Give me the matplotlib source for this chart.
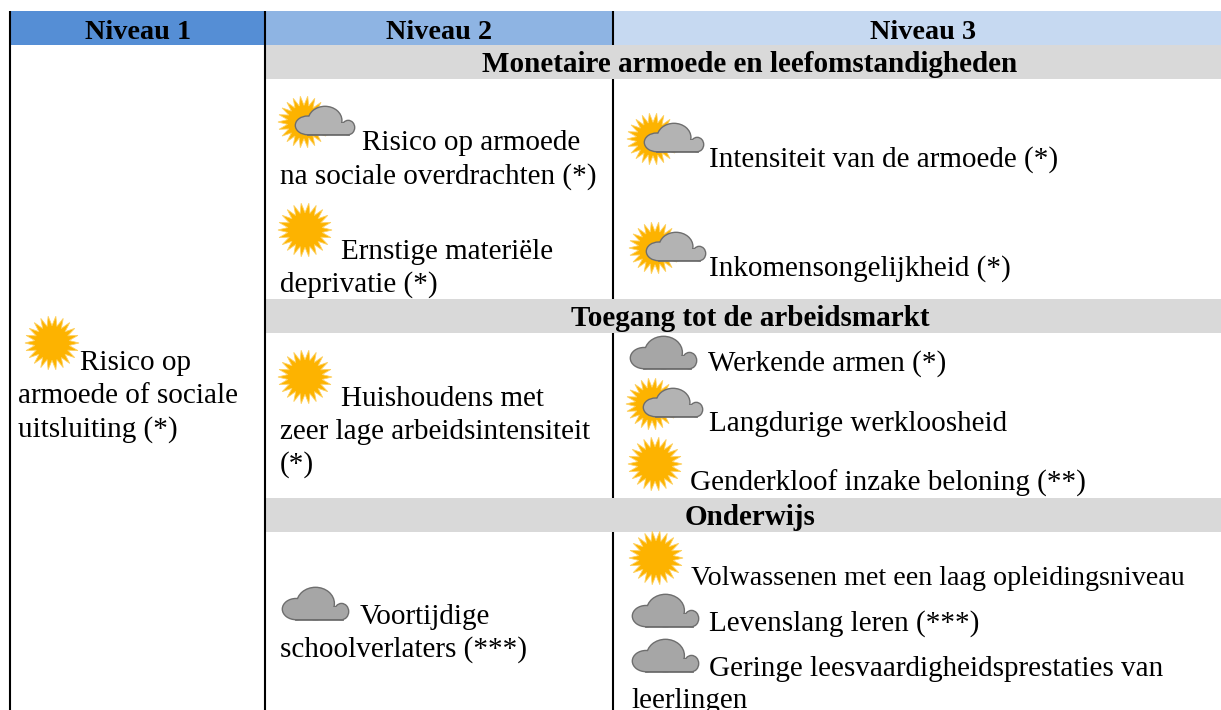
import numpy as np
import matplotlib
matplotlib.use("Agg")
import matplotlib.pyplot as plt
from matplotlib.patches import Rectangle, Ellipse, Polygon

plt.rcParams['font.family'] = ['Liberation Serif', 'DejaVu Serif']

headers = ['Niveau 1', 'Niveau 2', 'Niveau 3']
header_colors = ['#558ED5', '#8EB4E3', '#C6D9F1']
bands = ['Monetaire armoede en leefomstandigheden', 'Toegang tot de arbeidsmarkt', 'Onderwijs']

# text lines: label, left x, baseline y
lines = [
    ('Risico op', 80, 370), ('armoede of sociale', 18, 403), ('uitsluiting (*)', 18, 437),
    ('Risico op armoede', 362, 150), ('na sociale overdrachten (*)', 280, 184),
    ('Ernstige materiële', 341, 259), ('deprivatie (*)', 280, 292),
    ('Huishoudens met', 341, 406), ('zeer lage arbeidsintensiteit', 280, 439), ('(*)', 280, 472),
    ('Voortijdige', 360, 624), ('schoolverlaters (***)', 280, 657),
    ('Intensiteit van de armoede (*)', 709, 167),
    ('Inkomensongelijkheid (*)', 709, 276),
    ('Werkende armen (*)', 708, 371),
    ('Langdurige werkloosheid', 709, 431),
    ('Genderkloof inzake beloning (**)', 690, 491),
    ('Levenslang leren (***)', 709, 631),
    ('Geringe leesvaardigheidsprestaties van', 709, 676),
    ('leerlingen', 631, 708),
]
# this one runs a little narrower in the reference
narrow_line = ('Volwassenen met een laag opleidingsniveau', 691, 585)

# weather icons
suns = [(52, 343), (305, 230), (305, 377), (655, 464), (656, 558)]
partly = [(304, 122), (653, 139), (655, 248), (652, 404)]
clouds = [(283, 588), (631, 337), (633, 595), (633, 640)]

fig = plt.figure(figsize=(12.21, 7.10), dpi=100)
ax = fig.add_axes([0, 0, 1, 1])
ax.set_xlim(0, 1221)
ax.set_ylim(710, 0)
ax.axis('off')


def draw_sun(x, y, r=27):
    ang = np.linspace(0, 2 * np.pi, 44, endpoint=False)
    rad = np.where(np.arange(44) % 2 == 0, r, r * 0.64)
    pts = np.column_stack([x + rad * np.cos(ang), y + rad * np.sin(ang)])
    ax.add_patch(Polygon(pts, closed=True, fc='#FDB300', ec='#FDD060', lw=0.6, zorder=3))


def draw_cloud(x, y, w=64, h=31, fill='#A6A6A6', edge='#6E6E6E'):
    shapes = [
        (x + 0.2 * w, y + 0.68 * h, 0.4 * w, 0.64 * h),
        (x + 0.5 * w, y + 0.5 * h, 0.56 * w, h),
        (x + 0.9 * w, y + 0.76 * h, 0.2 * w, 0.48 * h),
    ]
    for color, lw, z in [(edge, 2.0, 4), (fill, 0, 5)]:
        for cx, cy, pw, ph in shapes:
            ax.add_patch(Ellipse((cx, cy), pw, ph, fc=color, ec=color, lw=lw, zorder=z))
        ax.add_patch(Rectangle((x + 0.2 * w, y + 0.6 * h), 0.7 * w, 0.4 * h,
                               fc=color, ec=color, lw=lw, zorder=z))


# header cells and grey bands
header_x = [(11, 265), (266, 613), (614, 1221)]
header_mid = [138, 439, 923]
for name, col, (x0, x1), xm in zip(headers, header_colors, header_x, header_mid):
    ax.add_patch(Rectangle((x0, 11), x1 - x0, 34, fc=col, ec='none'))
    ax.text(xm, 39, name, ha='center', va='baseline', fontsize=20.3, fontweight='bold', color='black')

band_y = [45, 299, 498]
for name, y0 in zip(bands, band_y):
    ax.add_patch(Rectangle((266, y0), 955, 34, fc='#D9D9D9', ec='none'))
    ax.text(750, y0 + 27, name, ha='center', va='baseline', fontsize=21, fontweight='bold', color='black')

# column rules
ax.plot([10, 10], [11, 710], color='black', lw=1.5, solid_capstyle='butt')
ax.plot([265, 265], [11, 710], color='black', lw=1.5, solid_capstyle='butt')
for y0, y1 in [(11, 45), (79, 299), (333, 498), (532, 710)]:
    ax.plot([613, 613], [y0, y1], color='black', lw=1.5, solid_capstyle='butt')

for label, x, y in lines:
    ax.text(x, y, label, ha='left', va='baseline', fontsize=21, color='black')
ax.text(narrow_line[1], narrow_line[2], narrow_line[0], ha='left', va='baseline', fontsize=20.2, color='black')

for x, y in suns:
    draw_sun(x, y)
for x, y in partly:
    draw_sun(x, y, r=26)
    draw_cloud(x - 8, y - 15, w=58, h=27, fill='#B3B3B3')
for x, y in clouds:
    draw_cloud(x, y, w=65, h=31)

fig.savefig('out.png', dpi=100)
